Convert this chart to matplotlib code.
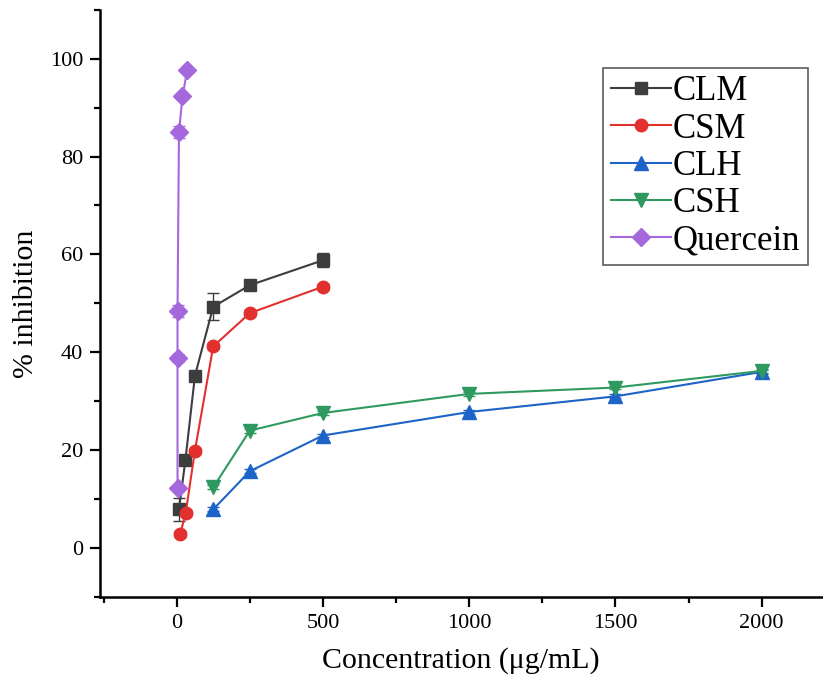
import matplotlib
matplotlib.use("Agg")
import matplotlib.pyplot as plt
from matplotlib.ticker import MultipleLocator
from matplotlib.lines import Line2D

plt.rcParams['font.family'] = ['Liberation Serif', 'DejaVu Serif']

# Data
clm_x = [8, 30, 62.5, 125, 250, 500]
clm_y = [7.9, 18.0, 35.2, 49.3, 53.7, 58.8]
clm_e = [2.4, 1.0, 0.8, 2.8, 0.6, 1.4]

csm_x = [12, 31, 62.5, 125, 250, 500]
csm_y = [2.8, 7.2, 19.9, 41.2, 48.0, 53.4]
csm_e = [0.6, 0.6, 0.6, 0.6, 0.6, 0.6]

clh_x = [125, 250, 500, 1000, 1500, 2000]
clh_y = [7.9, 15.7, 23.0, 27.8, 31.0, 36.0]
clh_e = [0.4, 0.4, 0.4, 0.4, 0.4, 0.4]

csh_x = [125, 250, 500, 1000, 1500, 2000]
csh_y = [12.4, 24.0, 27.6, 31.5, 32.8, 36.2]
csh_e = [0.4, 0.4, 0.4, 0.4, 0.4, 0.4]

que_x = [3, 3, 3, 8, 20, 36]
que_y = [12.2, 38.8, 48.4, 85.0, 92.3, 97.6]
que_e = [0.5, 0.8, 1.2, 1.3, 0.6, 0.4]

labels = ['CLM', 'CSM', 'CLH', 'CSH', 'Quercein']
colors = ['#3d3d3d', '#e2302f', '#1e64c8', '#2f9a60', '#a467dc']
markers = ['s', 'o', '^', 'v', 'D']
msizes = [9, 9, 10, 10, 9]

fig = plt.figure(figsize=(8.23, 6.91), dpi=100)
ax = fig.add_axes([0.1215, 0.136, 0.878, 0.85])

series = [(clm_x, clm_y, clm_e), (csm_x, csm_y, csm_e), (clh_x, clh_y, clh_e),
          (csh_x, csh_y, csh_e), (que_x, que_y, que_e)]
handles = []
for (x, y, e), lab, c, m, ms in zip(series, labels, colors, markers, msizes):
    ax.errorbar(x, y, yerr=e, color=c, marker=m, markersize=ms, linewidth=1.5,
                capsize=4, elinewidth=1, capthick=1)
    handles.append(Line2D([], [], color=c, marker=m, markersize=ms, linewidth=1.5))

ax.set_xlim(-262, 2208)
ax.set_ylim(-10, 110)
ax.xaxis.set_minor_locator(MultipleLocator(250))
ax.yaxis.set_minor_locator(MultipleLocator(10))
ax.set_xticks([0, 500, 1000, 1500, 2000])
ax.set_yticks([0, 20, 40, 60, 80, 100])

ax.spines['top'].set_visible(False)
ax.spines['right'].set_visible(False)
ax.spines['left'].set_linewidth(1.8)
ax.spines['bottom'].set_linewidth(1.8)
ax.tick_params(axis='both', which='major', direction='out', length=7, width=1.6, labelsize=16)
ax.tick_params(axis='x', which='major', pad=5)
ax.tick_params(axis='y', which='major', pad=5)
ax.tick_params(axis='both', which='minor', direction='out', length=4, width=1.6)

ax.set_xlabel('Concentration (μg/mL)', fontsize=21.5, labelpad=10)
ax.set_ylabel('% inhibition', fontsize=21.5, labelpad=8)

leg = ax.legend(handles, labels, loc='upper right', bbox_to_anchor=(0.98, 0.901), fontsize=25,
                frameon=True, fancybox=False, edgecolor='#333333',
                handlelength=1.75, borderpad=0.22, labelspacing=0.12, handletextpad=0.05,
                borderaxespad=0)
leg.get_frame().set_linewidth(1.2)

fig.savefig('out.png', dpi=100)
